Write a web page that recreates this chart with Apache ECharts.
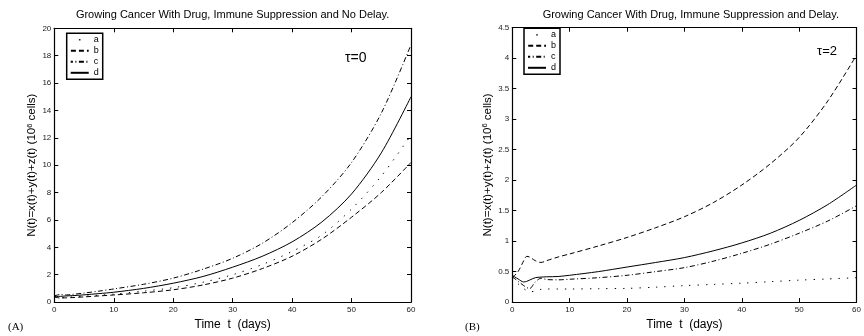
<!DOCTYPE html>
<html><head><meta charset="utf-8">
<script src="https://cdn.jsdelivr.net/npm/echarts@6/dist/echarts.min.js"></script>
<style>html,body{margin:0;padding:0;background:#fff}#c{width:864px;height:336px}</style>
</head><body><div id="c"></div>
<script>
// ---------- data ----------
const seriesNames = ['a', 'b', 'c', 'd'];
const xTicks = [0, 10, 20, 30, 40, 50, 60];
const yTicksA = [0, 2, 4, 6, 8, 10, 12, 14, 16, 18, 20];
const yTicksB = [0, 0.5, 1, 1.5, 2, 2.5, 3, 3.5, 4, 4.5];
const titleA = 'Growing Cancer With Drug, Immune Suppression and No Delay.';
const titleB = 'Growing Cancer With Drug, Immune Suppression and Delay.';
const tauA = 'τ=0';
const tauB = 'τ=2';

// Panel A (tau = 0)
const tA = [0, 1, 2, 3, 5, 7.5, 10, 15, 20, 25, 30, 35, 40, 45, 50, 55, 60];
const aA = [0.40, 0.33, 0.35, 0.37, 0.43, 0.50, 0.58, 0.80, 1.05, 1.45, 2.00, 2.75, 3.70, 4.90, 6.80, 9.20, 12.2];
const bA = [0.38, 0.30, 0.31, 0.33, 0.38, 0.45, 0.52, 0.68, 0.90, 1.25, 1.75, 2.45, 3.35, 4.60, 6.20, 8.00, 10.2];
const cA = [0.45, 0.55, 0.52, 0.56, 0.66, 0.80, 0.96, 1.30, 1.75, 2.40, 3.20, 4.30, 5.80, 7.70, 10.2, 13.8, 18.8];
const dA = [0.40, 0.42, 0.45, 0.47, 0.53, 0.62, 0.72, 1.00, 1.38, 1.87, 2.55, 3.35, 4.40, 5.85, 7.90, 10.9, 15.0];

// Panel B (tau = 2)
const tB = [0, 1, 2, 2.5, 3, 4, 5, 6, 8, 10, 15, 20, 25, 30, 35, 40, 45, 50, 55, 60];
const aB = [0.40, 0.30, 0.22, 0.19, 0.17, 0.18, 0.21, 0.215, 0.215, 0.215, 0.22, 0.225, 0.245, 0.27, 0.29, 0.31, 0.335, 0.36, 0.38, 0.40];
const bB = [0.40, 0.50, 0.68, 0.75, 0.74, 0.68, 0.65, 0.68, 0.74, 0.79, 0.92, 1.06, 1.22, 1.40, 1.63, 1.92, 2.27, 2.70, 3.30, 4.05];
const cB = [0.42, 0.34, 0.27, 0.24, 0.22, 0.33, 0.39, 0.37, 0.365, 0.375, 0.40, 0.44, 0.50, 0.565, 0.67, 0.80, 0.95, 1.13, 1.33, 1.58];
const dB = [0.44, 0.38, 0.33, 0.34, 0.36, 0.40, 0.41, 0.415, 0.42, 0.44, 0.50, 0.575, 0.65, 0.73, 0.84, 0.97, 1.13, 1.34, 1.60, 1.92];

// ---------- styles ----------
const FONT = 'Liberation Sans, Arial, Helvetica, sans-serif';
const dashes = { a: [1.3, 7], b: [5, 3], c: [5, 2.5, 1, 2.5], d: 'solid' };

const chart = echarts.init(document.getElementById('c'), null, { renderer: 'canvas' });

function xAxisPair(gi) {
  const base = {
    type: 'value', gridIndex: gi, min: xTicks[0], max: xTicks[xTicks.length - 1],
    interval: xTicks[1] - xTicks[0], splitLine: { show: false },
    axisLine: { show: true, onZero: false, lineStyle: { color: '#000', width: 1.2 } },
    axisTick: { show: true, inside: true, length: 4, lineStyle: { color: '#000', width: 1 } }
  };
  return [
    Object.assign({}, base, {
      position: 'bottom',
      axisLabel: { show: true, fontSize: 8, color: '#222', fontFamily: FONT, margin: 4 },
      name: 'Time  t  (days)', nameLocation: 'middle', nameGap: 14,
      nameTextStyle: { fontSize: 12, color: '#000', fontFamily: FONT }
    }),
    Object.assign({}, base, { position: 'top', axisLabel: { show: false } })
  ];
}
function yAxisPair(gi, ticks, gap) {
  const base = {
    type: 'value', gridIndex: gi, min: ticks[0], max: ticks[ticks.length - 1],
    interval: ticks[1] - ticks[0], splitLine: { show: false },
    axisLine: { show: true, onZero: false, lineStyle: { color: '#000', width: 1.2 } },
    axisTick: { show: true, inside: true, length: 4, lineStyle: { color: '#000', width: 1 } }
  };
  return [
    Object.assign({}, base, {
      position: 'left',
      axisLabel: { show: true, fontSize: 8, color: '#222', fontFamily: FONT, margin: 3 },
      name: 'N(t)=x(t)+y(t)+z(t) (10{sup|6} cells)', nameLocation: 'middle', nameGap: gap,
      nameTextStyle: {
        fontSize: 11.5, color: '#000', fontFamily: FONT, lineHeight: 13,
        rich: { sup: { fontSize: 7.5, lineHeight: 8, verticalAlign: 'top', color: '#000', fontFamily: FONT } }
      }
    }),
    Object.assign({}, base, { position: 'right', axisLabel: { show: false } })
  ];
}

function mkSeries(name, t, v, gi) {
  return {
    name: name, type: 'line', xAxisIndex: gi * 2, yAxisIndex: gi * 2,
    data: t.map((x, i) => [x, v[i]]), symbol: 'none', showSymbol: false,
    smooth: 0.3, silent: true,
    lineStyle: { color: '#000', width: 1, type: dashes[name] },
    itemStyle: { color: '#000' }
  };
}

const legendData = seriesNames.map(n => n === 'a'
  ? { name: n, lineStyle: { type: [1.6, 40], dashOffset: -8.2, width: 1.3 } }
  : { name: n });

function mkLegend(left, top) {
  return {
    data: legendData, orient: 'vertical', left: left, top: top,
    padding: [2, 4, 2, 3], itemWidth: 18, itemHeight: 9, itemGap: 2,
    borderColor: '#000', borderWidth: 1.5, backgroundColor: '#fff',
    textStyle: { fontSize: 9, color: '#000', fontFamily: FONT },
    itemStyle: { color: 'rgba(0,0,0,0)', borderColor: 'rgba(0,0,0,0)', borderWidth: 0, opacity: 0 },
    selectedMode: false
  };
}

const option = {
  animation: false,
  backgroundColor: '#fff',
  title: [
    { text: titleA, left: 232.6, top: 9, textAlign: 'center', padding: 0,
      textStyle: { fontSize: 11, fontWeight: 'normal', color: '#000', fontFamily: FONT } },
    { text: titleB, left: 690.8, top: 9, textAlign: 'center', padding: 0,
      textStyle: { fontSize: 11, fontWeight: 'normal', color: '#000', fontFamily: FONT } }
  ],
  grid: [
    { left: 54.3, top: 28.3, width: 356.7, height: 278.4, containLabel: false },
    { left: 512.3, top: 27.7, width: 357, height: 279, containLabel: false }
  ],
  xAxis: [].concat(xAxisPair(0), xAxisPair(1)),
  yAxis: [].concat(yAxisPair(0, yTicksA, 7), yAxisPair(1, yTicksB, 10)),
  legend: [mkLegend(66.7, 33.3), mkLegend(524, 28.3)],
  series: [
    mkSeries('a', tA, aA, 0), mkSeries('b', tA, bA, 0), mkSeries('c', tA, cA, 0), mkSeries('d', tA, dA, 0),
    mkSeries('a', tB, aB, 1), mkSeries('b', tB, bB, 1), mkSeries('c', tB, cB, 1), mkSeries('d', tB, dB, 1)
  ],
  graphic: [
    { type: 'text', left: 345, top: 51, style: { text: tauA, font: '14px ' + FONT, fill: '#000' } },
    { type: 'text', left: 817, top: 45, style: { text: tauB, font: '13px ' + FONT, fill: '#000' } },
    { type: 'text', left: 8, top: 322, style: { text: '(A)', font: '11px "Liberation Serif", serif', fill: '#000' } },
    { type: 'text', left: 465, top: 322, style: { text: '(B)', font: '11px "Liberation Serif", serif', fill: '#000' } }
  ]
};
chart.setOption(option);
</script>
</body></html>
